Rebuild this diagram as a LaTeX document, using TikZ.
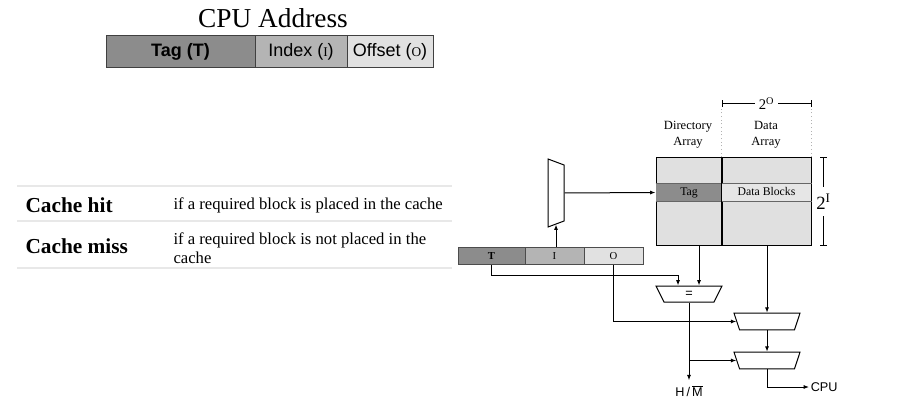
\documentclass[tikz,border=0pt]{standalone}
\usepackage{fontspec}
\setmainfont{Liberation Serif}
\setsansfont{Liberation Sans}
\usetikzlibrary{shapes.geometric,arrows.meta,calc}

\definecolor{darkcell}{RGB}{140,140,140}
\definecolor{midcell}{RGB}{180,180,180}
\definecolor{lightcell}{RGB}{225,225,225}
\definecolor{arrayfill}{RGB}{224,224,224}
\definecolor{blockfill}{RGB}{230,230,230}
\definecolor{rulegray}{RGB}{232,232,232}

\newcommand\smallrm[1]{{\rmfamily\fontsize{10}{12}\selectfont #1}}

\tikzset{every picture/.style={line width=0.75pt}}

\begin{document}
\begin{tikzpicture}[x=0.75pt,y=0.75pt,yscale=-1,xscale=1,
  addrcell/.style={draw=black!75, minimum height=24pt, inner sep=0pt, font=\sffamily\fontsize{13.5}{16}\selectfont},
  bitcell/.style={draw=black!70, minimum height=12.75pt, inner sep=0pt, text height=5.5pt, text depth=0pt, font=\fontsize{8}{9}\selectfont},
  arraycol/.style={draw, fill=arrayfill, minimum height=65.25pt, inner sep=0pt},
  arrayrow/.style={minimum height=12.75pt, inner sep=0pt, text height=6pt, text depth=1.8pt, font=\fontsize{8.8}{10}\selectfont},
  muxbox/.style={trapezium, draw, fill=white, shape border rotate=180, inner xsep=20.6pt, inner ysep=6.2pt, trapezium left angle=71.6, trapezium right angle=71.6},
  sizebar/.style={{Bar[width=5pt]}-{Bar[width=5pt]}, line width=0.6pt},
  sizelabel/.style={fill=white, inner sep=2.5pt, font=\fontsize{11}{13}\selectfont},
  headtext/.style={align=center, font=\fontsize{9.4}{12}\selectfont},
  termtext/.style={anchor=west, inner xsep=0pt, font=\bfseries\fontsize{16}{19}\selectfont},
  desctext/.style={anchor=west, inner xsep=0pt, align=left, font=\fontsize{12.5}{14.25}\selectfont},
  sigtext/.style={font=\sffamily\fontsize{9.5}{11}\selectfont},
  sig/.style={-{Latex[length=4pt,width=3pt]}},
  tablerule/.style={draw=rulegray, line width=1.2pt}
  ]
\useasboundingbox (0,0) rectangle (903,406);

% CPU address
\node (title) [font=\fontsize{20.5}{24}\selectfont] at (273,18) {CPU Address};
\node (tagf) [addrcell, fill=darkcell, minimum width=111.75pt] at (180.5,52) {\textbf{Tag (T)}};
\node (idxf) [addrcell, fill=midcell, minimum width=69pt] at (301,52) {Index (\smallrm{I})};
\node (offf) [addrcell, fill=lightcell, minimum width=64.5pt] at (390,52) {Offset (\smallrm{O})};

% hit / miss table
\draw[tablerule] (17,186) -- (452,186);
\draw[tablerule] (17,221) -- (452,221);
\draw[tablerule] (17,268) -- (452,268);
\node (hitterm) [termtext] at (25,205) {Cache hit};
\node (missterm) [termtext] at (25,246.5) {Cache miss};
\node (hitdesc) [desctext] at (173,205) {if a required block is placed in the cache};
\node (missdesc) [desctext] at (173,248) {if a required block is not placed in the\\cache};

% directory and data arrays
\node (dircol) [arraycol, minimum width=49.5pt] at (689,201.5) {};
\node (datacol) [arraycol, minimum width=66.75pt] at (766.5,201.5) {};
\node (tagrow) [arrayrow, fill=darkcell, minimum width=49.5pt] at (689,192.5) {Tag};
\node (blkrow) [arrayrow, fill=blockfill, minimum width=66.75pt] at (766.5,192.5) {Data Blocks};
\draw[black!60] (tagrow.north west) -- (blkrow.north east);
\draw[black!60] (tagrow.south west) -- (blkrow.south east);
\draw (datacol.north west) -- (datacol.south west);
\node (dirlbl) [headtext] at (688,135) {Directory\\Array};
\node (datalbl) [headtext] at (766,135) {Data\\Array};

\draw[dotted, black!30] (datacol.north west) -- ++(0,-51);
\draw[dotted, black!30] (datacol.north east) -- ++(0,-51);
\draw[sizebar] ($(datacol.north west)+(0,-54)$) -- node[sizelabel] (olbl) {2\textsuperscript{O}} ($(datacol.north east)+(0,-54)$);
\draw[sizebar] ($(datacol.north east)+(12,0)$) -- node[sizelabel, inner ysep=5pt, font=\fontsize{14}{16}\selectfont] (ilbl) {2\textsuperscript{I}} ($(datacol.south east)+(12,0)$);

% address bits
\node (tb) [bitcell, fill=darkcell, minimum width=50.25pt] at (491.5,255.5) {\textbf{T}};
\node (ib) [bitcell, fill=midcell, minimum width=44.25pt] at (554.5,255.5) {I};
\node (ob) [bitcell, fill=lightcell, minimum width=44.25pt] at (613.5,255.5) {O};

% index decoder, comparator, muxes
\node (imux) [trapezium, draw, fill=white, rotate=-90, inner xsep=21pt, inner ysep=6pt, trapezium left angle=69.4, trapezium right angle=69.4] at (556,193) {};
\node (cmp) [muxbox, inner xsep=18.75pt, inner ysep=6pt, trapezium left angle=63.4, trapezium right angle=63.4] at (689,294) {};
\node (eq) [sigtext] at (cmp) {=};
\node (selmux) [muxbox] at (767,321.5) {};
\node (outmux) [muxbox] at (767,360.5) {};
\node (hm) [sigtext] at (689,391) {H\,/\,$\overline{\hbox{M}}$};
\node (cpu) [sigtext, anchor=west, inner xsep=1pt] at (809,387) {CPU};

\draw[sig] (ib.north -| imux.east) -- (imux.east);
\draw[sig] (imux.north) -- (tagrow.west);
\draw[sig] (tb.south) -- ++(0,11) -| ($(cmp.north)+(-11,0)$);
\draw[sig] ($(dircol.south)+(10,0)$) -- ($(cmp.north)+(10,0)$);
\draw[sig] (ob.south) |- (selmux.west);
\draw[sig] (datacol.south -| selmux.north) -- (selmux.north);
\draw[sig] (selmux.south) -- (outmux.north);
\draw[sig] (cmp.south) -- (hm.north);
\draw[sig] (cmp.south |- outmux.west) -- (outmux.west);
\draw[sig] (outmux.south) |- (cpu.west);

\end{tikzpicture}
\end{document}
